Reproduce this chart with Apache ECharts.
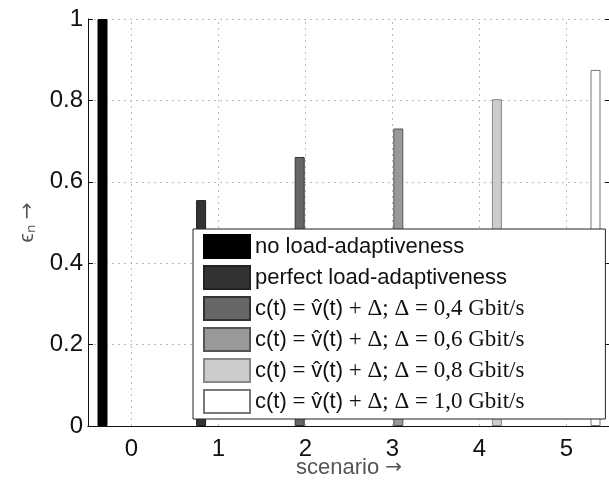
<!DOCTYPE html>
<html>
<head>
<meta charset="utf-8">
<script src="https://cdn.jsdelivr.net/npm/echarts@6/dist/echarts.min.js"></script>
<style>
  html, body { margin: 0; padding: 0; background: #fff; }
  #chart { width: 609px; height: 483px; }
</style>
</head>
<body>
<div id="chart"></div>
<script>
// scenarios on the x axis
const categories = ['0', '1', '2', '3', '4', '5'];
// epsilon_n per scenario (one bar per scenario)
const epsValues = [1.0, 0.555, 0.661, 0.731, 0.803, 0.875];
const seriesNames = [
  'no load-adaptiveness',
  'perfect load-adaptiveness',
  'd04', 'd06', 'd08', 'd10'
];
const deltas = ['', '', '0,4', '0,6', '0,8', '1,0'];
const fills = ['#000000', '#333333', '#666666', '#999999', '#cccccc', '#ffffff'];
const borders = ['#000000', '#222222', '#333333', '#555555', '#888888', '#777777'];
const yTicks = [0, 0.2, 0.4, 0.6, 0.8, 1];

const SANS = 'Liberation Sans';
const SERIF = 'Liberation Serif';

const chart = echarts.init(document.getElementById('chart'));

// each series only carries its own scenario, the rest stays empty
const series = seriesNames.map((name, k) => ({
  name: name,
  type: 'bar',
  barWidth: 10,
  barGap: '16%',
  data: categories.map((c, i) => (i === k ? epsValues[k] : '-')),
  itemStyle: { color: fills[k], borderColor: borders[k], borderWidth: 1 },
  emphasis: { disabled: true },
  z: 3
}));

// dotted vertical grid at the scenario ticks
series.push({
  type: 'line',
  data: [],
  silent: true,
  markLine: {
    symbol: 'none',
    silent: true,
    label: { show: false },
    lineStyle: { color: '#bbb', type: [2, 4], width: 1 },
    data: categories.map((c) => ({ xAxis: c }))
  },
  z: 1
});

function legendText(name) {
  const k = seriesNames.indexOf(name);
  if (k < 2) return '{s|' + name + '}';
  return '{s|c(t)}{m| = }{s|v̂(t)}{m| + Δ; Δ = ' + deltas[k] + ' Gbit/s}';
}

const arrowRich = { fontFamily: 'DejaVu Sans', fontSize: 20, color: '#555' };

const option = {
  animation: false,
  grid: { left: 88, top: 19, width: 522, height: 407, outerBoundsMode: 'none', containLabel: false },
  legend: {
    orient: 'vertical',
    left: 193,
    top: 229,
    data: seriesNames,
    itemWidth: 46,
    itemHeight: 23,
    itemGap: 6,
    padding: [5, 81, 5, 10],
    backgroundColor: '#fff',
    borderColor: '#222',
    borderWidth: 1,
    borderRadius: 0,
    icon: 'rect',
    selectedMode: false,
    formatter: legendText,
    textStyle: {
      color: '#111',
      rich: {
        s: { fontFamily: SANS, fontSize: 22, color: '#111', lineHeight: 23 },
        m: { fontFamily: SERIF, fontSize: 23, color: '#111', lineHeight: 23 }
      }
    },
    z: 10
  },
  xAxis: [
    {
      type: 'category',
      data: categories,
      name: '{t|scenario }{a|→}',
      nameLocation: 'middle',
      nameGap: 31,
      nameMoveOverlap: false,
      nameTextStyle: {
        rich: { t: { fontFamily: SANS, fontSize: 22, color: '#555' }, a: arrowRich }
      },
      axisLine: { lineStyle: { color: '#111', width: 1 } },
      axisTick: { inside: true, alignWithLabel: true, length: 5, lineStyle: { color: '#111' } },
      axisLabel: { fontFamily: SANS, fontSize: 24, color: '#111', margin: 11 },
      splitLine: { show: false }
    },
    {
      type: 'category',
      data: categories,
      position: 'top',
      axisLine: { lineStyle: { color: '#111', width: 1 } },
      axisTick: { inside: true, alignWithLabel: true, length: 5, lineStyle: { color: '#111' } },
      axisLabel: { show: false },
      splitLine: { show: false }
    }
  ],
  yAxis: [
    {
      type: 'value',
      min: 0,
      max: 1,
      interval: 0.2,
      name: '{t|ϵₙ }{a|→}',
      nameLocation: 'middle',
      nameRotate: 90,
      nameGap: 50,
      nameMoveOverlap: false,
      nameTextStyle: {
        rich: { t: { fontFamily: SANS, fontSize: 21, color: '#555' }, a: arrowRich }
      },
      axisLine: { show: true, lineStyle: { color: '#111', width: 1 } },
      axisTick: { show: true, inside: true, length: 5, lineStyle: { color: '#111' } },
      axisLabel: {
        fontFamily: SANS, fontSize: 24, color: '#111', margin: 5,
        formatter: (v) => (yTicks.indexOf(v) >= 0 && v !== 0 && v !== 1 ? v.toFixed(1) : String(v))
      },
      splitLine: { show: true, lineStyle: { color: '#bbb', type: [2, 4], width: 1 } }
    },
    {
      type: 'value',
      min: 0,
      max: 1,
      interval: 0.2,
      position: 'right',
      axisLine: { show: true, lineStyle: { color: '#111', width: 1 } },
      axisTick: { show: true, inside: true, length: 5, lineStyle: { color: '#111' } },
      axisLabel: { show: false },
      splitLine: { show: false }
    }
  ],
  series: series
};

chart.setOption(option);
</script>
</body>
</html>
